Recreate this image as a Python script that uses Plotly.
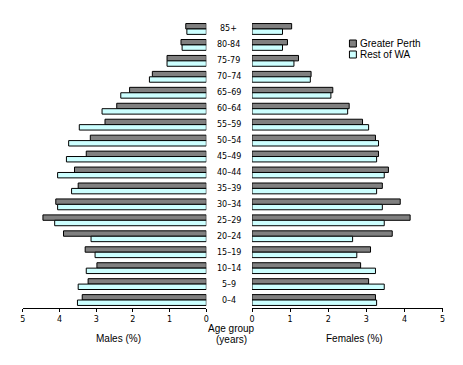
import plotly.graph_objects as go

age_groups = ["85+", "80-84", "75-79", "70–74", "65–69", "60–64", "55–59", "50–54",
              "45–49", "40–44", "35–39", "30–34", "25–29", "20–24", "15–19",
              "10–14", "5–9", "0–4"]

males_perth = [0.56, 0.69, 1.07, 1.47, 2.09, 2.44, 2.76, 3.16, 3.27, 3.59, 3.49,
               4.10, 4.45, 3.89, 3.30, 2.98, 3.22, 3.38]
males_rest = [0.53, 0.66, 1.07, 1.55, 2.33, 2.84, 3.46, 3.75, 3.81, 4.05, 3.67,
              4.05, 4.13, 3.14, 3.03, 3.27, 3.49, 3.51]
females_perth = [1.04, 0.93, 1.22, 1.55, 2.12, 2.55, 2.90, 3.24, 3.32, 3.58, 3.42,
                 3.89, 4.15, 3.68, 3.11, 2.85, 3.06, 3.24]
females_rest = [0.80, 0.80, 1.10, 1.53, 2.07, 2.51, 3.06, 3.32, 3.27, 3.47, 3.27,
                3.42, 3.47, 2.64, 2.75, 3.24, 3.47, 3.27]

x_ticks = [0, 1, 2, 3, 4, 5]
series_names = ["Greater Perth", "Rest of WA"]
GREY = "#808080"
CYAN = "#ccffff"

W, H = 463, 365
def px(x):
    return x / W
def py(y):
    return 1 - y / H

fig = go.Figure()
line = dict(color="black", width=1)
fig.add_trace(go.Bar(y=age_groups, x=males_perth, orientation="h", name=series_names[0],
                     marker=dict(color=GREY, line=line), xaxis="x", yaxis="y", showlegend=False))
fig.add_trace(go.Bar(y=age_groups, x=males_rest, orientation="h", name=series_names[1],
                     marker=dict(color=CYAN, line=line), xaxis="x", yaxis="y", showlegend=False))
fig.add_trace(go.Bar(y=age_groups, x=females_perth, orientation="h", name=series_names[0],
                     marker=dict(color=GREY, line=line), xaxis="x2", yaxis="y2", showlegend=False))
fig.add_trace(go.Bar(y=age_groups, x=females_rest, orientation="h", name=series_names[1],
                     marker=dict(color=CYAN, line=line), xaxis="x2", yaxis="y2", showlegend=False))

tickfont = dict(family="DejaVu Sans", size=8, color="black")
xcommon = dict(tickvals=x_ticks, ticks="outside", ticklen=3, tickcolor="black",
               showline=True, linecolor="black", linewidth=1, showgrid=False,
               zeroline=False, tickfont=tickfont)
ydom = [py(308), py(21)]
ycommon = dict(categoryorder="array", categoryarray=age_groups, autorange="reversed",
               showticklabels=False, showgrid=False, zeroline=False, showline=False,
               ticks="", domain=ydom)

fig.update_layout(
    width=W, height=H,
    margin=dict(l=0, r=0, t=0, b=0),
    paper_bgcolor="white", plot_bgcolor="white",
    barmode="group", bargap=0.32, bargroupgap=0,
    xaxis=dict(range=[5, 0], domain=[px(20), px(206)], anchor="y", **xcommon),
    xaxis2=dict(range=[0, 5], domain=[px(252.3), px(445.3)], anchor="y2", **xcommon),
    yaxis=dict(anchor="x", **ycommon),
    yaxis2=dict(anchor="x2", **ycommon),
    showlegend=False,
)

# Category labels between the two halves
for g in age_groups:
    fig.add_annotation(x=px(228.5), xref="paper", y=g, yref="y", text=g,
                       showarrow=False, xanchor="center", yanchor="middle",
                       font=dict(family="DejaVu Sans", size=8, color="black"))

lab_font = dict(family="Liberation Sans", size=10, color="black")
fig.add_annotation(x=px(117), y=py(338), xref="paper", yref="paper", text="Males (%)",
                   showarrow=False, xanchor="center", yanchor="middle", font=lab_font)
fig.add_annotation(x=px(356), y=py(338), xref="paper", yref="paper", text="Females (%)",
                   showarrow=False, xanchor="center", yanchor="middle", font=lab_font)
fig.add_annotation(x=px(231), y=py(328.5), xref="paper", yref="paper", text="Age group",
                   showarrow=False, xanchor="center", yanchor="middle", font=lab_font)
fig.add_annotation(x=px(231.5), y=py(339.5), xref="paper", yref="paper", text="(years)",
                   showarrow=False, xanchor="center", yanchor="middle", font=lab_font)

# Legend drawn manually
for i, (name, col) in enumerate(zip(series_names, [GREY, CYAN])):
    yc = 43.5 + 11 * i
    fig.add_shape(type="rect", xref="paper", yref="paper",
                  x0=px(351), x1=px(358), y0=py(yc + 3.5), y1=py(yc - 3.5),
                  fillcolor=col, line=dict(color="black", width=1))
    fig.add_annotation(x=px(359.5), y=py(yc), xref="paper", yref="paper", text=name,
                       showarrow=False, xanchor="left", yanchor="middle", font=lab_font)

fig.write_html("out.html")
